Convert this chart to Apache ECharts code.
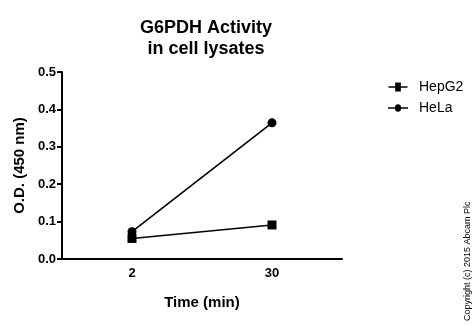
<!DOCTYPE html>
<html><head><meta charset="utf-8">
<script src="https://cdn.jsdelivr.net/npm/echarts@6/dist/echarts.min.js"></script>
<style>html,body{margin:0;padding:0;background:#fff}#c{width:475px;height:326px}</style>
</head><body><div id="c"></div>
<script>
const categories = ['2', '30'];
const hepg2 = [0.055, 0.091];
const hela = [0.073, 0.364];
const yTicks = [0, 0.1, 0.2, 0.3, 0.4, 0.5];
const F = 'Liberation Sans, Arial, Helvetica, sans-serif';
const chart = echarts.init(document.getElementById('c'));
chart.setOption({
  animation: false,
  title: {
    text: 'G6PDH Activity\nin cell lysates', left: 201, top: 13, textAlign: 'center',
    textStyle: { fontFamily: F, fontSize: 18, fontWeight: 'bold', color: '#000', lineHeight: 21 }
  },
  legend: {
    left: 383, top: 75, orient: 'vertical', itemGap: 7, itemWidth: 20, itemHeight: 9,
    textStyle: { fontFamily: F, fontSize: 14, color: '#000', padding: [0, 0, 0, 6] },
    data: [
      { name: 'HepG2', icon: 'path://M0,4h7v-4h6v4h7v1.5h-7v4h-6v-4h-7z' },
      { name: 'HeLa', icon: 'path://M0,4h7a3,3,0,0,1,6,0h7v1.5h-7a3,3,0,0,1,-6,0h-7z' }
    ],
    itemStyle: { color: '#000' }
  },
  grid: { left: 62, right: 133, top: 72, bottom: 67 },
  xAxis: {
    type: 'category', data: categories,
    name: 'Time (min)', nameLocation: 'middle', nameGap: 36,
    nameTextStyle: { fontFamily: F, fontSize: 15, fontWeight: 'bold', color: '#000' },
    axisLine: { lineStyle: { color: '#000', width: 2 } },
    axisTick: { alignWithLabel: true, length: 5, lineStyle: { color: '#000', width: 2 } },
    axisLabel: { fontFamily: F, fontSize: 13, fontWeight: 'bold', color: '#000', margin: 8 }
  },
  yAxis: {
    type: 'value', min: 0, max: 0.5, interval: 0.1,
    name: 'O.D. (450 nm)', nameLocation: 'middle', nameGap: 31,
    nameTextStyle: { fontFamily: F, fontSize: 15, fontWeight: 'bold', color: '#000' },
    axisLine: { show: true, lineStyle: { color: '#000', width: 2 } },
    axisTick: { show: true, length: 5, lineStyle: { color: '#000', width: 2 } },
    splitLine: { show: false },
    axisLabel: { fontFamily: F, fontSize: 13, fontWeight: 'bold', color: '#000', margin: 6,
      formatter: v => yTicks.includes(Math.round(v*10)/10) ? v.toFixed(1) : '' }
  },
  series: [
    { name: 'HepG2', type: 'line', data: hepg2, symbol: 'rect', symbolSize: 9,
      lineStyle: { color: '#000', width: 1.6 }, itemStyle: { color: '#000' } },
    { name: 'HeLa', type: 'line', data: hela, symbol: 'circle', symbolSize: 9,
      lineStyle: { color: '#000', width: 1.6 }, itemStyle: { color: '#000' } }
  ],
  graphic: [{
    type: 'text', x: 463, y: 321, rotation: Math.PI / 2,
    style: { text: 'Copyright (c) 2015 Abcam Plc', fontFamily: F, fontSize: 9, fill: '#000', textAlign: 'left', textVerticalAlign: 'top' }
  }]
});
</script></body></html>
